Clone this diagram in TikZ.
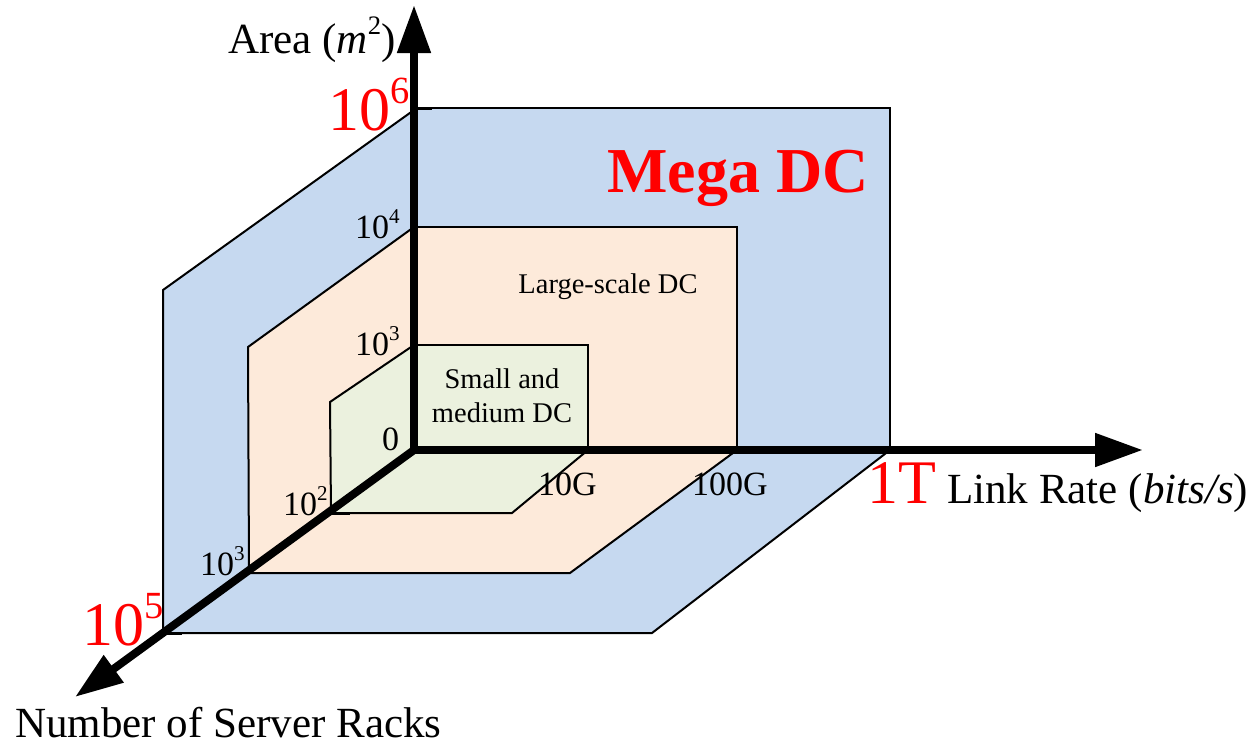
\documentclass[tikz,border=0pt]{standalone}
\usepackage{fontspec}
\setmainfont{Liberation Serif}
\usetikzlibrary{arrows.meta}

\definecolor{megablue}{RGB}{198,217,240}
\definecolor{largeorange}{RGB}{253,234,218}
\definecolor{smallgreen}{RGB}{235,241,222}

% superscript of the power labels
\newcommand{\sups}[1]{\raisebox{0.42em}{\scalebox{0.62}{#1}}}

\begin{document}
\begin{tikzpicture}[x=1pt, y=-1pt,
  plane/.style={draw=black, line width=2pt, line join=miter},
  axis/.style={line width=8pt, line cap=rect, -{Triangle[length=48pt,width=32pt]}},
  tickmark/.style={line width=3pt},
  lbl/.style={inner sep=0pt, anchor=base west},
  small/.style={lbl, font=\fontsize{34}{34}\selectfont},
  big/.style={lbl, text=red, font=\fontsize{62}{62}\selectfont},
  axlbl/.style={lbl, font=\fontsize{43}{43}\selectfont},
  dclbl/.style={inner sep=0pt, anchor=base, font=\fontsize{28.5}{28.5}\selectfont}]
  \useasboundingbox (0,0) rectangle (1252,744);

  % Mega DC
  \draw[plane, fill=megablue] (414,108) rectangle (890,450);
  \draw[plane, fill=megablue] (414,110) -- (163,290) -- (163,633) -- (414,450) -- cycle;
  \draw[plane, fill=megablue] (414,450) -- (890,450) -- (652,633) -- (163,633) -- cycle;

  % Large-scale DC
  \draw[plane, fill=largeorange] (414,227) rectangle (737,450);
  \draw[plane, fill=largeorange] (414,227) -- (248,347) -- (249,573) -- (414,450) -- cycle;
  \draw[plane, fill=largeorange] (414,450) -- (737,450) -- (570,573) -- (249,573) -- cycle;

  % Small and medium DC
  \draw[plane, fill=smallgreen] (414,345) rectangle (588,450);
  \draw[plane, fill=smallgreen] (414,345) -- (330,402) -- (331,513) -- (414,450) -- cycle;
  \draw[plane, fill=smallgreen] (414,450) -- (588,450) -- (512,513) -- (331,513) -- cycle;

  % ticks
  \draw[tickmark] (418,108) -- (432,108);
  \draw[tickmark] (332,513) -- (350,513);
  \draw[tickmark] (167,633) -- (182,633);

  % axes
  \coordinate (O) at (414,450);
  \coordinate (areaTip) at (414,5);
  \coordinate (rateTip) at (1143,450);
  \coordinate (rackTip) at (75,697);
  \draw[axis] (O) -- (rackTip);
  \draw[axis] (O) -- (rateTip);
  \draw[axis] (O) -- (areaTip);

  % axis labels
  \node[axlbl] (areaLbl) at (228,53) {Area (\textit{m}\sups{2})};
  \node[axlbl] (rateLbl) at (947,503) {Link Rate (\textit{bits/s})};
  \node[axlbl, text depth=0pt] (rackLbl) at (15,737) {Number of Server Racks};

  % scale values
  \node[big] (a6) at (328,130) {10\sups{6}};
  \node[small] (a4) at (355,238) {10\sups{4}};
  \node[small] (a3) at (355,355) {10\sups{3}};
  \node[small] (zero) at (382,450) {0};
  \node[small] (r2) at (283,515) {10\sups{2}};
  \node[small] (r3) at (200,575) {10\sups{3}};
  \node[big] (r5) at (82,645) {10\sups{5}};
  \node[small] (g10) at (538,495) {10G};
  \node[small] (g100) at (692,495) {100G};
  \node[big] (t1) at (867,503) {1T};

  % DC names
  \node[lbl, text=red, font=\fontsize{64}{64}\selectfont\bfseries] (mega) at (607,192) {Mega DC};
  \node[dclbl] (large) at (608,293) {Large-scale DC};
  \node[dclbl] (small1) at (502,388) {Small and};
  \node[dclbl] (small2) at (502,422) {medium DC};
\end{tikzpicture}
\end{document}
